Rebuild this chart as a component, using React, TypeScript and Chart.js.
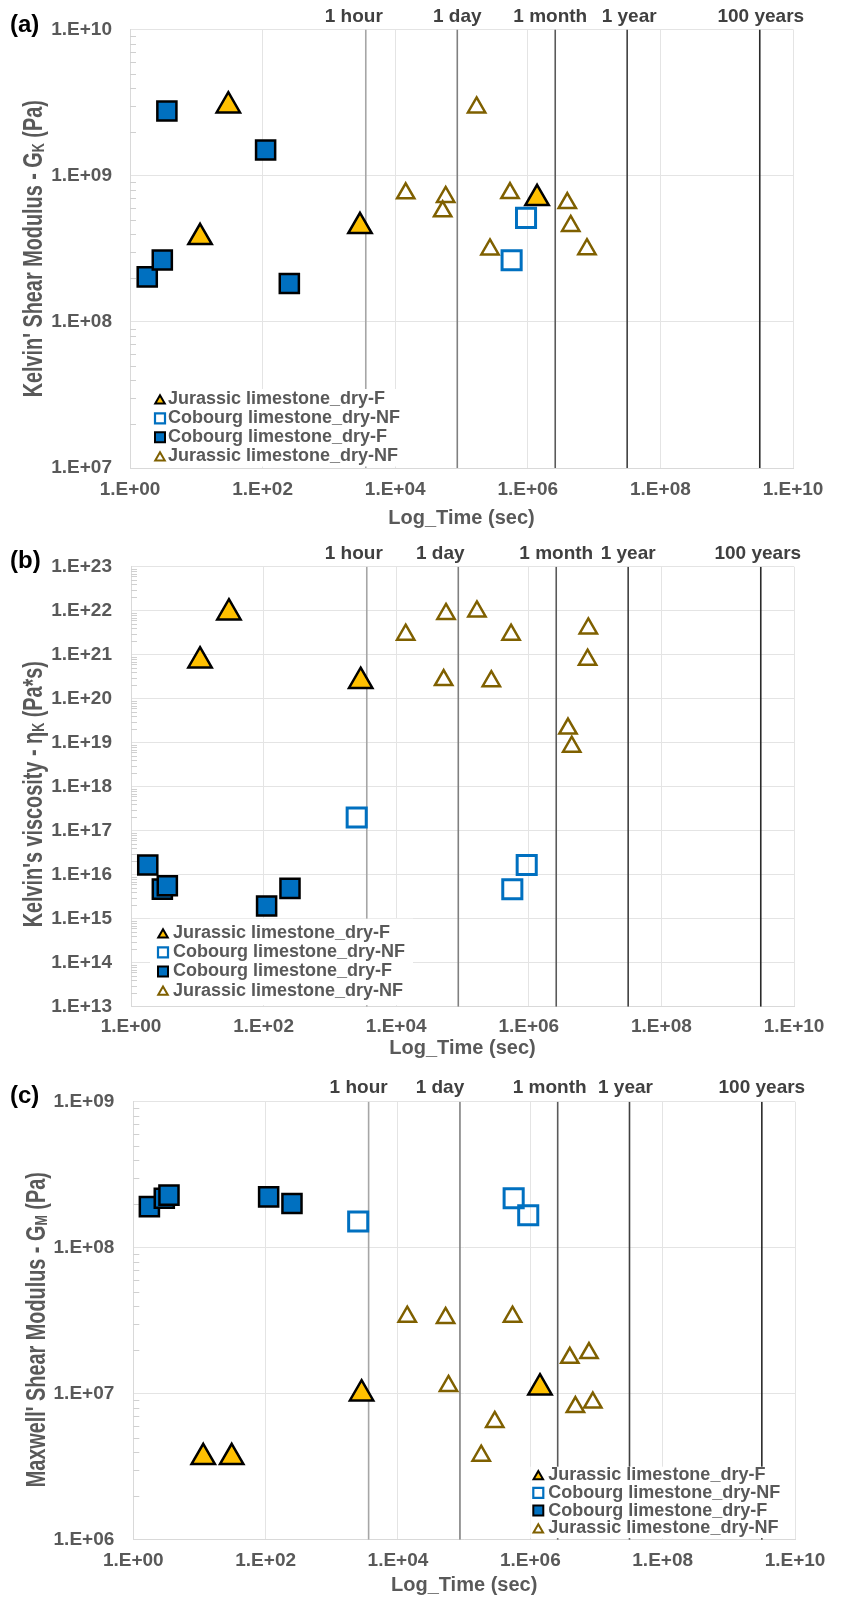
import React, { useEffect, useRef } from 'react';
import { Chart, registerables } from 'chart.js';

Chart.register(...registerables);

const FONT = "'Liberation Sans', Arial, Helvetica, sans-serif";
const TEXT_GRAY = '#595959';

// ---------- shared data ----------
const SERIES_NAMES = [
  'Jurassic limestone_dry-F',
  'Cobourg limestone_dry-NF',
  'Cobourg limestone_dry-F',
  'Jurassic limestone_dry-NF',
];
const X_TICKS = [1, 1e2, 1e4, 1e6, 1e8, 1e10];
const TIME_MARKS = [3600, 86400, 2592000, 31536000, 3153600000];
const TIME_LABELS = ['1 hour', '1 day', '1 month', '1 year', '100 years'];
const TIME_COLORS = ['#a6a6a6', '#808080', '#5a5a5a', '#404040', '#2a2a2a'];

// ---------- panel (a): Kelvin shear modulus ----------
const A_Y_TICKS = [1e7, 1e8, 1e9, 1e10];
const A_JUR_F_X = [11.4, 30.4, 2944, 1.38e6];
const A_JUR_F_Y = [3.79e8, 3.01e9, 4.5e8, 7.0e8];
const A_COB_NF_X = [5.7e5, 9.4e5];
const A_COB_NF_Y = [2.64e8, 5.14e8];
const A_COB_F_X = [1.82, 3.07, 3.6, 111, 253];
const A_COB_F_Y = [2.03e8, 2.65e8, 2.77e9, 1.5e9, 1.83e8];
const A_JUR_NF_X = [1.44e4, 5.2e4, 5.77e4, 1.69e5, 2.69e5, 5.39e5, 3.94e6, 4.44e6, 7.8e6];
const A_JUR_NF_Y = [7.57e8, 5.7e8, 7.15e8, 2.93e9, 3.13e8, 7.6e8, 6.49e8, 4.53e8, 3.14e8];

// ---------- panel (b): Kelvin viscosity ----------
const B_Y_TICKS = [1e13, 1e14, 1e15, 1e16, 1e17, 1e18, 1e19, 1e20, 1e21, 1e22, 1e23];
const B_JUR_F_X = [11, 30, 2912];
const B_JUR_F_Y = [7.3e20, 9.0e21, 2.5e20];
const B_COB_NF_X = [2536, 5.64e5, 9.3e5];
const B_COB_NF_Y = [2.0e17, 4.66e15, 1.66e16];
const B_COB_F_X = [1.79, 2.97, 3.53, 111, 250];
const B_COB_F_Y = [1.66e16, 4.7e15, 5.6e15, 1.95e15, 4.9e15];
const B_JUR_NF_X = [1.39e4, 5.2e4, 5.64e4, 1.65e5, 2.72e5, 5.4e5, 3.9e6, 4.44e6, 7.7e6, 7.9e6];
const B_JUR_NF_Y = [2.85e21, 2.65e20, 8.45e21, 9.6e21, 2.5e20, 2.85e21, 2.1e19, 8.1e18, 7.7e20, 3.96e21];

// ---------- panel (c): Maxwell shear modulus ----------
const C_Y_TICKS = [1e6, 1e7, 1e8, 1e9];
const C_JUR_F_X = [11.4, 30.7, 2818, 1.4e6];
const C_JUR_F_Y = [3.67e6, 3.67e6, 1.0e7, 1.1e7];
const C_COB_NF_X = [2505, 5.6e5, 9.3e5];
const C_COB_NF_Y = [1.51e8, 2.18e8, 1.67e8];
const C_COB_F_X = [1.75, 2.94, 3.46, 111, 250];
const C_COB_F_Y = [1.91e8, 2.18e8, 2.29e8, 2.23e8, 2.01e8];
const C_JUR_NF_X = [1.38e4, 5.24e4, 5.8e4, 1.81e5, 2.9e5, 5.38e5, 3.95e6, 4.8e6, 7.7e6, 8.8e6];
const C_JUR_NF_Y = [3.37e7, 3.3e7, 1.13e7, 3.76e6, 6.4e6, 3.37e7, 1.76e7, 8.1e6, 1.9e7, 8.7e6];

// ---------- styles ----------
const STYLES = [
  { pointStyle: 'triangle', radius: 13.5, bg: '#FFC000', border: '#000000', bw: 2.5 },
  { pointStyle: 'rect', radius: 13.5, bg: 'rgba(255,255,255,0)', border: '#0070C0', bw: 3 },
  { pointStyle: 'rect', radius: 13.5, bg: '#0070C0', border: '#000000', bw: 2.5 },
  { pointStyle: 'triangle', radius: 10, bg: 'rgba(255,255,255,0)', border: '#7F6000', bw: 2.5 },
];

type PanelCfg = {
  letter: string;
  top: number;
  height: number;
  area: { left: number; top: number; right: number; bottom: number };
  yTicks: number[];
  xs: number[][];
  ys: number[][];
  tickPadX: number;
  tickPadY: number;
  letterDy: number;
  yTitle: [string, string, string];
  yTitleX: number;
  yTitleDy: number;
  xTitleDy: number;
  timeDx: number[];
  timeDy: number;
  legend: { mx: number; tx: number; y0: number; dy: number; box: number[] };
};

const PANELS: PanelCfg[] = [
  {
    letter: '(a)', top: 0, height: 530,
    area: { left: 130, top: 29.5, right: 793, bottom: 468 },
    yTicks: A_Y_TICKS,
    xs: [A_JUR_F_X, A_COB_NF_X, A_COB_F_X, A_JUR_NF_X],
    ys: [A_JUR_F_Y, A_COB_NF_Y, A_COB_F_Y, A_JUR_NF_Y],
    tickPadX: 10, tickPadY: 18, letterDy: -4.5,
    yTitle: ["Kelvin' Shear Modulus - G", 'K', ' (Pa)'], yTitleX: 41.7, yTitleDy: 0,
    xTitleDy: 50,
    timeDx: [-12, 0, -5, 2, 1], timeDy: -12.5,
    legend: { mx: 30, tx: 38, y0: -68.7, dy: 19, box: [20, -79, 276, -1.5] },
  },
  {
    letter: '(b)', top: 530, height: 530,
    area: { left: 131, top: 36.7, right: 794, bottom: 476.7 },
    yTicks: B_Y_TICKS,
    xs: [B_JUR_F_X, B_COB_NF_X, B_COB_F_X, B_JUR_NF_X],
    ys: [B_JUR_F_Y, B_COB_NF_Y, B_COB_F_Y, B_JUR_NF_Y],
    tickPadX: 9, tickPadY: 19, letterDy: -5,
    yTitle: ["Kelvin's viscosity - \u03B7", 'K', ' (Pa*s)'], yTitleX: 41.7, yTitleDy: 7.5,
    xTitleDy: 42,
    timeDx: [-13, -18, 0, 0, -3], timeDy: -13,
    legend: { mx: 32, tx: 42, y0: -73.4, dy: 19.1, box: [19, -88, 282, -1.5] },
  },
  {
    letter: '(c)', top: 1060, height: 538,
    area: { left: 133.3, top: 41.7, right: 795, bottom: 479.7 },
    yTicks: C_Y_TICKS,
    xs: [C_JUR_F_X, C_COB_NF_X, C_COB_F_X, C_JUR_NF_X],
    ys: [C_JUR_F_Y, C_COB_NF_Y, C_COB_F_Y, C_JUR_NF_Y],
    tickPadX: 9.5, tickPadY: 19, letterDy: -5,
    yTitle: ["Maxwell' Shear Modulus - G", 'M', ' (Pa)'], yTitleX: 44.5, yTitleDy: 9,
    xTitleDy: 45.5,
    timeDx: [-10, -20, -8, -4, 0], timeDy: -14.4,
    legend: { mx: 405, tx: 415, y0: -64.7, dy: 17.8, box: [397, -73, 652, -1.5] },
  },
];

function sci(v: number): string {
  const e = Math.round(Math.log10(v));
  return '1.E' + (e >= 0 ? '+' : '-') + String(Math.abs(e)).padStart(2, '0');
}

function triPath(ctx: CanvasRenderingContext2D, x: number, y: number, r: number) {
  ctx.beginPath();
  ctx.moveTo(x, y - r);
  ctx.lineTo(x + r * 0.866, y + r / 2);
  ctx.lineTo(x - r * 0.866, y + r / 2);
  ctx.closePath();
}

function drawLegendMarker(ctx: CanvasRenderingContext2D, i: number, x: number, y: number) {
  ctx.save();
  ctx.lineJoin = 'miter';
  if (i === 0) {
    triPath(ctx, x, y + 1.4, 5.5);
    ctx.fillStyle = '#FFC000';
    ctx.fill();
    ctx.lineWidth = 2;
    ctx.strokeStyle = '#000';
    ctx.stroke();
  } else if (i === 1) {
    ctx.beginPath();
    ctx.rect(x - 5, y - 5, 10, 10);
    ctx.lineWidth = 2.2;
    ctx.strokeStyle = '#0070C0';
    ctx.stroke();
  } else if (i === 2) {
    ctx.beginPath();
    ctx.rect(x - 5, y - 5, 10, 10);
    ctx.fillStyle = '#0070C0';
    ctx.fill();
    ctx.lineWidth = 2;
    ctx.strokeStyle = '#000';
    ctx.stroke();
  } else {
    triPath(ctx, x, y + 1.4, 5.5);
    ctx.lineWidth = 2;
    ctx.strokeStyle = '#7F6000';
    ctx.stroke();
  }
  ctx.restore();
}

function makeOverlay(cfg: PanelCfg) {
  return {
    id: 'overlay' + cfg.letter,
    beforeDatasetsDraw(chart: any) {
      const { ctx, chartArea } = chart;
      const ys = chart.scales.y;
      const lo = Math.round(Math.log10(cfg.yTicks[0]));
      const hi = Math.round(Math.log10(cfg.yTicks[cfg.yTicks.length - 1]));
      ctx.save();
      ctx.strokeStyle = '#d0d0d0';
      ctx.lineWidth = 1;
      for (let d = lo; d < hi; d++) {
        for (let k = 2; k <= 9; k++) {
          const py = Math.round(ys.getPixelForValue(k * Math.pow(10, d))) + 0.5;
          ctx.beginPath();
          ctx.moveTo(chartArea.left, py);
          ctx.lineTo(chartArea.left + 6, py);
          ctx.stroke();
        }
      }
      ctx.restore();
    },
    afterDatasetsDraw(chart: any) {
      const { ctx, chartArea } = chart;
      const L = cfg.legend;
      ctx.save();
      ctx.fillStyle = '#ffffff';
      const b = L.box;
      ctx.fillRect(chartArea.left + b[0], chartArea.bottom + b[1], b[2] - b[0], b[3] - b[1]);
      ctx.font = `bold 18px ${FONT}`;
      ctx.textBaseline = 'middle';
      ctx.textAlign = 'left';
      ctx.fillStyle = TEXT_GRAY;
      SERIES_NAMES.forEach((name, i) => {
        const y = chartArea.bottom + L.y0 + i * L.dy;
        drawLegendMarker(ctx, i, chartArea.left + L.mx, y);
        ctx.fillStyle = TEXT_GRAY;
        ctx.fillText(name, chartArea.left + L.tx, y);
      });
      ctx.restore();
    },
    afterDraw(chart: any) {
      const { ctx, chartArea } = chart;
      const xs = chart.scales.x;
      ctx.save();
      // time labels
      ctx.font = `bold 19px ${FONT}`;
      ctx.fillStyle = '#404040';
      ctx.textAlign = 'center';
      ctx.textBaseline = 'middle';
      TIME_MARKS.forEach((t, i) => {
        ctx.fillText(TIME_LABELS[i], xs.getPixelForValue(t) + cfg.timeDx[i], chartArea.top + cfg.timeDy);
      });
      // panel letter
      ctx.font = `bold 24px ${FONT}`;
      ctx.fillStyle = '#000';
      ctx.textAlign = 'left';
      ctx.fillText(cfg.letter, 10, chartArea.top + cfg.letterDy);
      // x title
      ctx.font = `bold 20px ${FONT}`;
      ctx.fillStyle = TEXT_GRAY;
      ctx.textAlign = 'center';
      ctx.fillText('Log_Time (sec)', (chartArea.left + chartArea.right) / 2, chartArea.bottom + cfg.xTitleDy);
      // y title (rotated, with subscript)
      const [pre, sub, post] = cfg.yTitle;
      const mainFont = `bold 27px ${FONT}`;
      const subFont = `bold 17px ${FONT}`;
      ctx.font = mainFont;
      const w1 = ctx.measureText(pre).width;
      const w3 = ctx.measureText(post).width;
      ctx.font = subFont;
      const w2 = ctx.measureText(sub).width;
      const total = w1 + w2 + w3;
      ctx.translate(cfg.yTitleX, (chartArea.top + chartArea.bottom) / 2 + cfg.yTitleDy);
      ctx.rotate(-Math.PI / 2);
      ctx.scale(0.735, 1);
      ctx.textAlign = 'left';
      ctx.textBaseline = 'alphabetic';
      let x0 = -total / 2;
      ctx.font = mainFont;
      ctx.fillText(pre, x0, 0);
      x0 += w1;
      ctx.font = subFont;
      ctx.fillText(sub, x0, 2);
      x0 += w2;
      ctx.font = mainFont;
      ctx.fillText(post, x0, 0);
      ctx.restore();
    },
  };
}

function Panel({ cfg }: { cfg: PanelCfg }) {
  const ref = useRef<HTMLCanvasElement>(null);
  useEffect(() => {
    const canvas = ref.current;
    if (!canvas) return;
    const A = cfg.area;
    const yMin = cfg.yTicks[0];
    const yMax = cfg.yTicks[cfg.yTicks.length - 1];
    const datasets: any[] = [];
    SERIES_NAMES.forEach((name, i) => {
      const s = STYLES[i];
      datasets.push({
        label: name,
        data: cfg.xs[i].map((x, j) => ({ x, y: cfg.ys[i][j] })),
        pointStyle: s.pointStyle,
        pointRadius: s.radius,
        pointBackgroundColor: s.bg,
        pointBorderColor: s.border,
        pointBorderWidth: s.bw,
        showLine: false,
        order: i,
      });
    });
    TIME_MARKS.forEach((t, i) => {
      datasets.push({
        label: TIME_LABELS[i],
        data: [{ x: t, y: yMin }, { x: t, y: yMax }],
        showLine: true,
        borderColor: TIME_COLORS[i],
        borderWidth: 1.6,
        pointRadius: 0,
        order: 20,
      });
    });
    const xAxisH = 42;
    const chart = new Chart(canvas, {
      type: 'scatter',
      data: { datasets },
      plugins: [makeOverlay(cfg)],
      options: {
        responsive: false,
        animation: false,
        devicePixelRatio: 1,
        events: [],
        layout: {
          padding: {
            left: 0,
            top: A.top,
            right: 841 - A.right,
            bottom: cfg.height - A.bottom - xAxisH,
          },
        },
        plugins: { legend: { display: false }, tooltip: { enabled: false } },
        scales: {
          x: {
            type: 'logarithmic',
            min: 1,
            max: 1e10,
            afterBuildTicks: (scale: any) => {
              scale.ticks = X_TICKS.map((v) => ({ value: v }));
            },
            afterFit: (scale: any) => {
              scale.height = xAxisH;
            },
            ticks: {
              autoSkip: false,
              maxRotation: 0,
              minRotation: 0,
              padding: cfg.tickPadX,
              color: TEXT_GRAY,
              font: { family: FONT, size: 19, weight: 'bold' },
              callback: (v: any) => sci(Number(v)),
            },
            grid: { color: '#e4e4e4', lineWidth: 1, drawTicks: false },
            border: { display: true, color: '#d9d9d9' },
          },
          y: {
            type: 'logarithmic',
            min: yMin,
            max: yMax,
            afterBuildTicks: (scale: any) => {
              scale.ticks = cfg.yTicks.map((v) => ({ value: v }));
            },
            afterFit: (scale: any) => {
              scale.width = A.left;
            },
            ticks: {
              autoSkip: false,
              padding: cfg.tickPadY,
              color: TEXT_GRAY,
              font: { family: FONT, size: 19, weight: 'bold' },
              callback: (v: any) => sci(Number(v)),
            },
            grid: { color: '#e4e4e4', lineWidth: 1, drawTicks: false },
            border: { display: true, color: '#d9d9d9' },
          },
        },
      } as any,
    });
    return () => chart.destroy();
  }, [cfg]);
  return (
    <canvas
      ref={ref}
      width={841}
      height={cfg.height}
      style={{ position: 'absolute', left: 0, top: cfg.top, width: 841, height: cfg.height }}
    />
  );
}

export default function App() {
  return (
    <div style={{ position: 'absolute', left: 0, top: 0, width: 841, height: 1598, background: '#ffffff', overflow: 'hidden' }}>
      {PANELS.map((p) => (
        <Panel key={p.letter} cfg={p} />
      ))}
    </div>
  );
}
